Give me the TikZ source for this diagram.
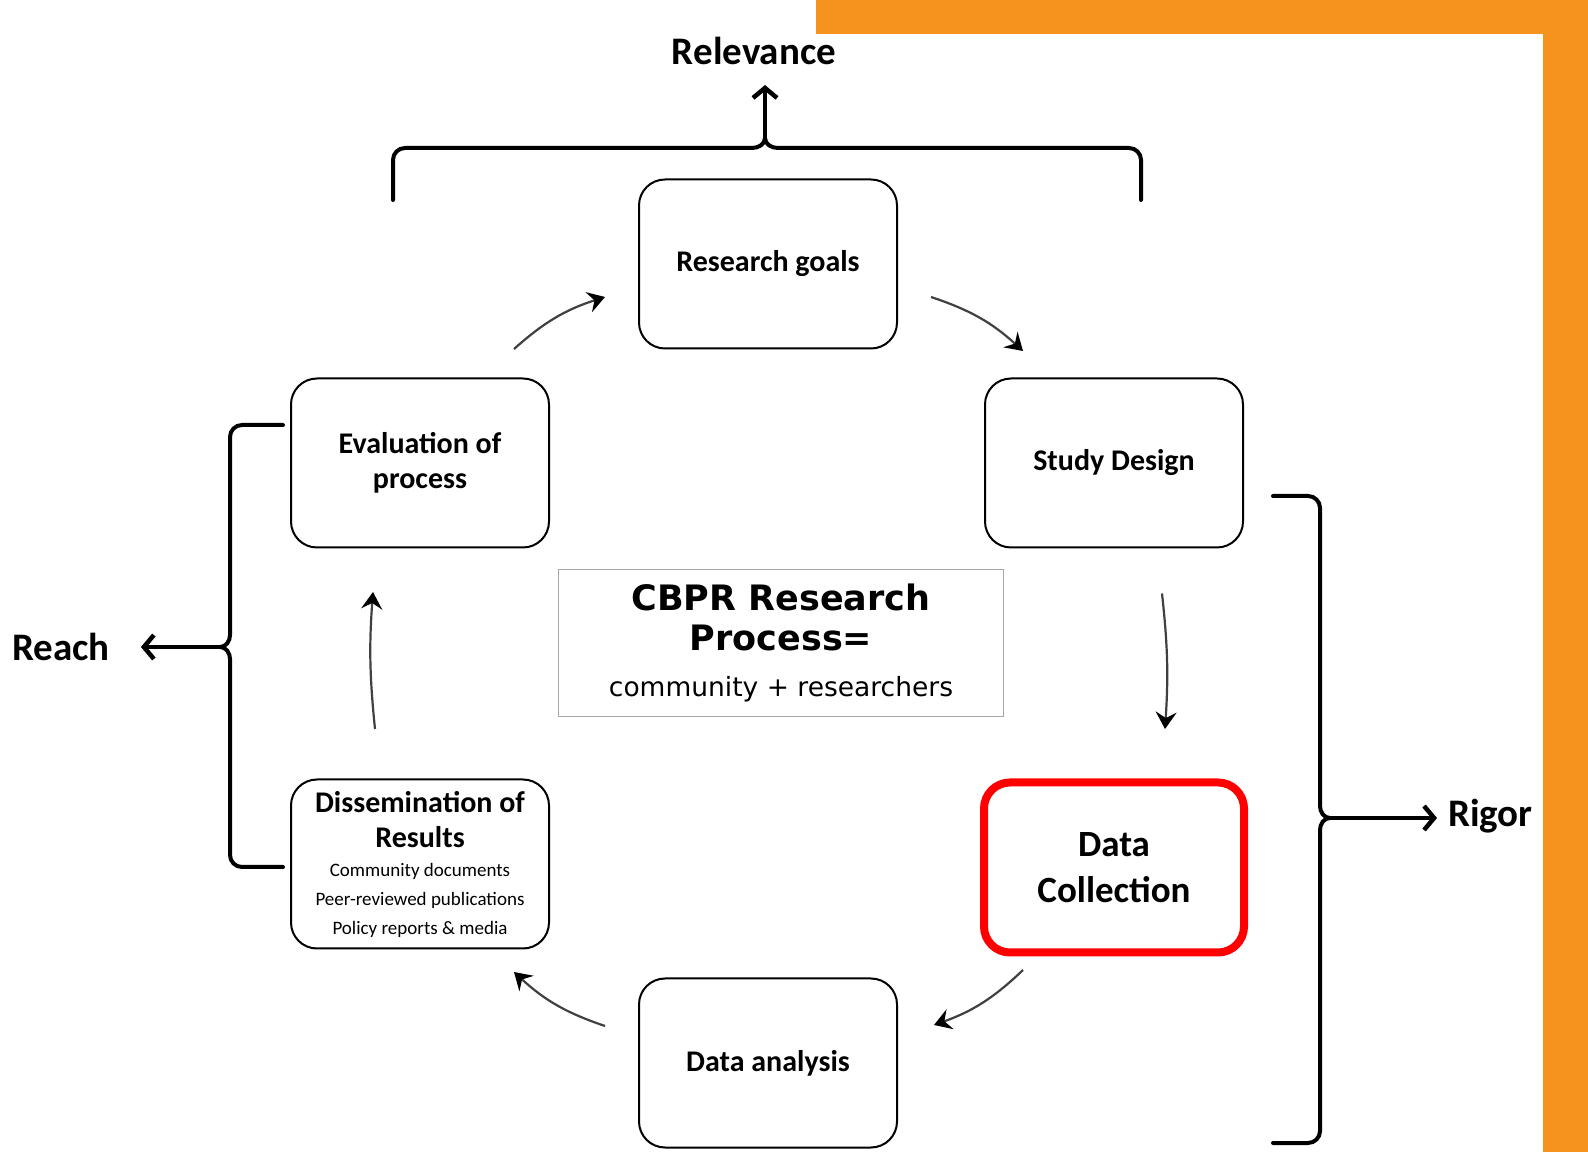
\documentclass[tikz,border=0pt]{standalone}
\usepackage{fontspec}
\setmainfont{Carlito}
\newfontfamily\verdfont{DejaVu Sans}
\usetikzlibrary{arrows.meta,positioning,calc}
\definecolor{cbprorange}{HTML}{F6921E}
\definecolor{cbprred}{HTML}{FF0000}

\begin{document}
\begin{tikzpicture}[x=1pt, y=1pt,
    procbox/.style={draw=black, fill=white, rectangle, rounded corners=26pt, minimum width=258pt, minimum height=169pt, align=center, line width=2pt, font=\fontsize{30}{35}\selectfont\bfseries},
    hlbox/.style={procbox, draw=cbprred, line width=8pt, minimum width=260pt, minimum height=170pt, font=\fontsize{37}{46}\selectfont\bfseries},
    cbprbox/.style={draw=gray!70, rectangle, minimum width=445pt, minimum height=147pt, align=center, line width=1.5pt},
    lbl/.style={inner sep=0pt, font=\fontsize{39}{46}\selectfont\bfseries},
    cyc/.style={-{Stealth[length=17pt,width=21pt,inset=6pt,color=black]}, draw=black!75, line width=2.2pt},
    brace/.style={draw=black, line width=4pt, line cap=round},
    bracearrow/.style={-{Straight Barb[length=10pt,width=24pt,line width=4.5pt]}, draw=black, line width=4pt}
  ]
    \useasboundingbox (0,0) rectangle (1588,1152);
    % orange frame
    \fill[cbprorange] (816,1118) rectangle (1588,1152);
    \fill[cbprorange] (1543,0) rectangle (1588,1152);
    % cycle boxes
    \node[procbox] (goals) at (768,888) {Research goals};
    \node[procbox, below right=28pt and 86pt of goals] (design) {Study Design};
    \node[procbox, below left=28pt and 88pt of goals] (eval) {Evaluation of\\process};
    \node[hlbox, below=230pt of design] (collect) {Data\\Collection};
    \node[procbox] (analysis) at (768,89) {Data analysis};
    \node[procbox, below=230pt of eval, font=\fontsize{19}{29}\selectfont] (dissem) {{\fontsize{30}{35}\selectfont\bfseries Dissemination of}\\[6pt]{\fontsize{30}{35}\selectfont\bfseries Results}\\Community documents\\Peer-reviewed publications\\Policy reports \& media};
    \node[cbprbox, font=\verdfont\fontsize{26.5}{46}\selectfont] (cbpr) at (781,509) {{\bfseries\fontsize{35}{40}\selectfont CBPR Research}\\[-6pt]{\bfseries\fontsize{35}{40}\selectfont Process=}\\community + researchers};
    % cycle arrows
    \draw[cyc] ([shift={(-36,28.5)}]eval.north east) to[bend left=12] ([shift={(-33,-33)}]goals.west);
    \draw[cyc] ([shift={(33,-33)}]goals.east) to[bend left=12] ([shift={(39,26.5)}]design.north west);
    \draw[cyc] ([shift={(48,-45)}]design.south) to[bend left=5] ([shift={(51,49.5)}]collect.north);
    \draw[cyc] ([shift={(-91,-13.5)}]collect.south) to[bend left=12] ([shift={(36,-47.5)}]analysis.north east);
    \draw[cyc] ([shift={(-33,-48.5)}]analysis.north west) to[bend left=12] ([shift={(-36,-22.5)}]dissem.south east);
    \draw[cyc] ([shift={(-45,49.5)}]dissem.north) to[bend left=5] ([shift={(-47,-43.5)}]eval.south);
    % outcome labels
    \node[lbl] (relevance) at (754,1101) {Relevance};
    \node[lbl] (reach) at (61,505) {Reach};
    \node[lbl, anchor=west] (rigor) at (1448,336) {Rigor};
    % braces
    \coordinate (topcusp) at (765,1014);
    \coordinate (leftcusp) at (220,505);
    \coordinate (rightcusp) at (1330,334);
    \draw[brace] (393,952) -- (393,992) to[out=90,in=180] (405,1004) -- (752,1004) to[out=0,in=270] (topcusp) to[out=270,in=180] (778,1004) -- (1129,1004) to[out=0,in=90] (1141,992) -- (1141,952);
    \draw[brace] (283,727) -- (242,727) to[out=180,in=90] (230,715) -- (230,517) to[out=270,in=0] (leftcusp) to[out=0,in=90] (230,493) -- (230,297) to[out=270,in=180] (242,285) -- (283,285);
    \draw[brace] (1273,656) -- (1308,656) to[out=0,in=90] (1320,644) -- (1320,346) to[out=270,in=180] (rightcusp) to[out=180,in=90] (1320,322) -- (1320,21) to[out=270,in=0] (1308,9) -- (1273,9);
    \draw[bracearrow, shorten >=20pt] (topcusp) -- (topcusp |- relevance.south);
    \draw[bracearrow, shorten >=31pt] (leftcusp) -- (leftcusp -| reach.east);
    \draw[bracearrow, shorten >=11pt] (rightcusp) -- (rightcusp -| rigor.west);
  \end{tikzpicture}
\end{document}
